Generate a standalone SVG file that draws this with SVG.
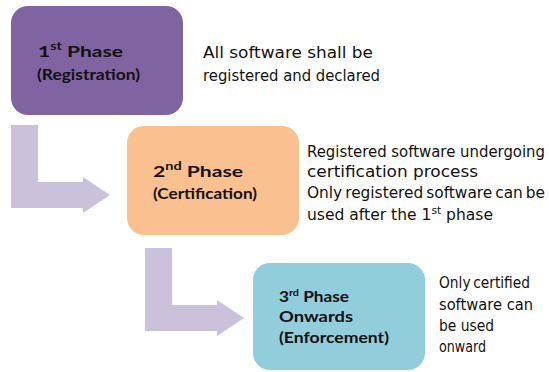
<svg xmlns="http://www.w3.org/2000/svg" width="549" height="372" viewBox="0 0 549 372">
<style>
.bt{font-family:Lato,"Liberation Sans",sans-serif;font-weight:bold;font-size:16px;fill:#111}
.rt{font-family:"DejaVu Sans",Verdana,sans-serif;font-size:16px;fill:#111}
.arrow{fill:#CCC1DA}
</style>
<rect width="549" height="372" fill="#fff"/>
<g id="connectors">
<path class="arrow" d="M11,125 H38 V182 H83 V177 L110,195 L83,213 V208 H11 Z"/>
<path class="arrow" d="M145,248 H172 V305 H217 V300 L244,318 L217,336 V331 H145 Z"/>
</g>
<g id="phase1">
<rect x="11" y="6" width="172" height="109" rx="17" fill="#8064A2"/>
<text class="bt" x="38" y="57" textLength="85" lengthAdjust="spacingAndGlyphs" font-size="18">1<tspan font-size="11" dy="-7">st</tspan><tspan dy="7"> Phase</tspan></text>
<text class="bt" x="37" y="80" textLength="103" lengthAdjust="spacingAndGlyphs">(Registration)</text>
</g>
<g id="phase1-desc">
<text class="rt" x="203" y="58" textLength="170" lengthAdjust="spacingAndGlyphs">All software shall be</text>
<text class="rt" x="203" y="81" textLength="177" lengthAdjust="spacingAndGlyphs">registered and declared</text>
</g>
<g id="phase2">
<rect x="127" y="126" width="172" height="109" rx="17" fill="#FAC090"/>
<text class="bt" x="153" y="177" textLength="90" lengthAdjust="spacingAndGlyphs" font-size="18">2<tspan font-size="11" dy="-7">nd</tspan><tspan dy="7"> Phase</tspan></text>
<text class="bt" x="153" y="199" textLength="104" lengthAdjust="spacingAndGlyphs">(Certification)</text>
</g>
<g id="phase2-desc">
<text class="rt" x="307" y="157" textLength="238" lengthAdjust="spacingAndGlyphs">Registered software undergoing</text>
<text class="rt" x="307" y="177" textLength="171" lengthAdjust="spacingAndGlyphs">certification process</text>
<text class="rt" x="307" y="198" textLength="238" lengthAdjust="spacingAndGlyphs" word-spacing="-2">Only registered software can be</text>
<text class="rt" x="307" y="220" textLength="186" lengthAdjust="spacingAndGlyphs">used after the 1<tspan font-size="11" dy="-6">st</tspan><tspan dy="6"> phase</tspan></text>
</g>
<g id="phase3">
<rect x="253" y="263" width="172" height="107" rx="17" fill="#92CDDC"/>
<text class="bt" x="279" y="302" textLength="70" lengthAdjust="spacingAndGlyphs">3<tspan font-size="10" dy="-6">rd</tspan><tspan dy="6"> Phase</tspan></text>
<text class="bt" x="279" y="322" textLength="74" lengthAdjust="spacingAndGlyphs">Onwards</text>
<text class="bt" x="279" y="343" textLength="110" lengthAdjust="spacingAndGlyphs">(Enforcement)</text>
</g>
<g id="phase3-desc">
<text class="rt" x="439" y="288" textLength="91" lengthAdjust="spacingAndGlyphs" word-spacing="-2">Only certified</text>
<text class="rt" x="439" y="310" textLength="94" lengthAdjust="spacingAndGlyphs">software can</text>
<text class="rt" x="439" y="331" textLength="55" lengthAdjust="spacingAndGlyphs">be used</text>
<text class="rt" x="439" y="352" textLength="47" lengthAdjust="spacingAndGlyphs">onward</text>
</g>
</svg>
